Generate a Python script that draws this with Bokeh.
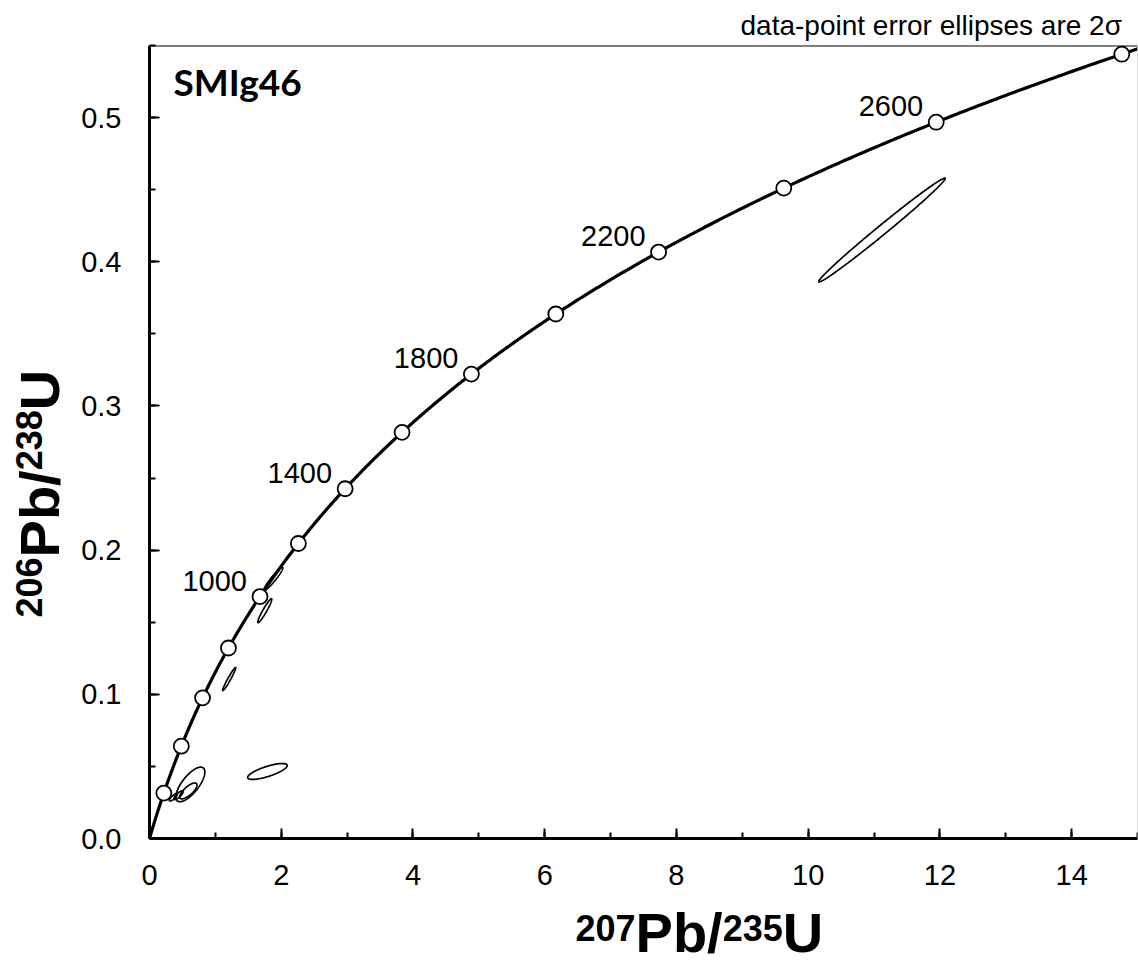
import numpy as np
from bokeh.plotting import figure
from bokeh.layouts import row, column
from bokeh.models import Label, Span, SingleIntervalTicker, ColumnDataSource, Range1d, NumeralTickFormatter, Title
from bokeh.core.properties import value
from bokeh.embed import file_html
from bokeh.resources import INLINE

# decay constants (per Ma)
LAMBDA_238 = 1.55125e-4
LAMBDA_235 = 9.8485e-4

marker_ages = [200, 400, 600, 800, 1000, 1200, 1400, 1600, 1800, 2000, 2200, 2400, 2600, 2800]
label_ages = [1000, 1400, 1800, 2200, 2600]

# data-point error ellipses (2 sigma): centre, half-widths, correlation
ell_x = [11.12, 1.79, 0.62, 0.59, 0.36, 0.44, 1.21, 1.75, 1.88]
ell_y = [0.422, 0.0465, 0.0375, 0.033, 0.0285, 0.030, 0.1106, 0.158, 0.180]
ell_sx = [0.96, 0.30, 0.22, 0.13, 0.06, 0.07, 0.099, 0.106, 0.144]
ell_sy = [0.036, 0.0055, 0.012, 0.0055, 0.0025, 0.003, 0.008, 0.0083, 0.008]
ell_rho = [0.993, 0.75, 0.72, 0.75, 0.8, 0.8, 0.97, 0.95, 0.95]

sample_name = "SMIg46"
note_text = "data-point error ellipses are 2\u03c3"
x_title = [("207", True), ("Pb/", False), ("235", True), ("U", False)]
y_title = [("206", True), ("Pb/", False), ("238", True), ("U", False)]

FONT = "Liberation Sans"

def conc_x(t):
    return np.exp(LAMBDA_235 * np.asarray(t, dtype=float)) - 1

def conc_y(t):
    return np.exp(LAMBDA_238 * np.asarray(t, dtype=float)) - 1

W, H = 1138, 964
LEFT_W = 70
MAIN_H = 897
FRAME_L, FRAME_R, FRAME_T, FRAME_B = 149, 1137, 45, 838
XMAX, YMAX = 15, 0.55

p = figure(width=W - LEFT_W, height=MAIN_H, output_backend="svg", toolbar_location=None,
           x_range=Range1d(0, XMAX), y_range=Range1d(0, YMAX),
           min_border_left=FRAME_L - LEFT_W, min_border_right=W - FRAME_R, min_border_top=FRAME_T,
           min_border_bottom=MAIN_H - FRAME_B)
p.title = Title(text=note_text, align="left", text_font=FONT, text_font_size="28px",
                text_font_style="normal", text_color="black", offset=740 - FRAME_L, standoff=9)
p.grid.visible = False
p.outline_line_color = None

for ax in (p.xaxis[0], p.yaxis[0]):
    ax.axis_line_width = 3
    ax.axis_line_color = "black"
    ax.major_tick_in = 10
    ax.major_tick_out = 0
    ax.minor_tick_in = 6
    ax.minor_tick_out = 0
    ax.major_tick_line_width = 2
    ax.minor_tick_line_width = 2
    ax.major_tick_line_color = "black"
    ax.minor_tick_line_color = "black"
    ax.major_label_text_font = FONT
    ax.major_label_text_font_size = "29px"
    ax.major_label_text_color = "black"
    ax.major_label_standoff = 28
p.xaxis[0].major_label_standoff = 26

p.xaxis[0].ticker = SingleIntervalTicker(interval=2, num_minor_ticks=2)
p.yaxis[0].ticker = SingleIntervalTicker(interval=0.1, num_minor_ticks=2)
p.yaxis[0].formatter = NumeralTickFormatter(format="0.0")
p.xaxis[0].formatter = NumeralTickFormatter(format="0")

# frame top and right
p.add_layout(Span(location=YMAX, dimension="width", line_color="black", line_width=2))
p.add_layout(Span(location=XMAX, dimension="height", line_color="#c0c0c0", line_width=1))

# error ellipses
theta = np.linspace(0, 2 * np.pi, 240)
xs, ys = [], []
for cx, cy, sx, sy, r in zip(ell_x, ell_y, ell_sx, ell_sy, ell_rho):
    xs.append(cx + sx * np.cos(theta))
    ys.append(cy + sy * (r * np.cos(theta) + np.sqrt(1 - r * r) * np.sin(theta)))
p.patches(xs, ys, fill_color=None, line_color="black", line_width=1.7)

# concordia curve
t_curve = np.linspace(0, 2850, 600)
p.line(conc_x(t_curve), conc_y(t_curve), line_color="black", line_width=3.2)

msrc = ColumnDataSource(dict(x=conc_x(marker_ages), y=conc_y(marker_ages)))
p.scatter("x", "y", source=msrc, size=15, fill_color="white", line_color="black", line_width=1.8)

lsrc = ColumnDataSource(dict(x=conc_x(label_ages), y=conc_y(label_ages), t=[str(a) for a in label_ages]))
p.text("x", "y", text="t", source=lsrc, text_align="right", text_baseline="middle",
       x_offset=-13, y_offset=-16, text_font=value(FONT), text_font_size="29px", text_color="black")

p.add_layout(Label(x=0.365, y=0.5095, text=sample_name, text_font="Lato", text_font_style="bold",
                   text_font_size="37px", text_color="black"))

# ---- axis-title strips (text with superscript isotopes) ----
BIG, SMALL = 56, 36
adv = {"P": 0.667, "b": 0.611, "/": 0.278, "U": 0.722}
def width_of(s, size):
    return sum(0.556 if c.isdigit() else adv[c] for c in s) * size

# left strip: rotated y title (pixel coordinates of the strip)
left = figure(width=LEFT_W, height=H, output_backend="svg", toolbar_location=None,
              x_range=Range1d(0, LEFT_W), y_range=Range1d(0, H), x_axis_type=None, y_axis_type=None,
              min_border=0, outline_line_color=None)
left.grid.visible = False
cur = H - 617
for txt, sup in y_title:
    sz = SMALL if sup else BIG
    left.text([28.5 if sup else 39], [cur], text=[txt], angle=np.pi / 2, text_align="left",
              text_baseline="middle", text_font=value(FONT), text_font_style="bold",
              text_font_size=f"{sz}px", text_color="black")
    cur += width_of(txt, sz)

# bottom strip: x title, frame aligned with main frame
BOT_H = H - MAIN_H
bottom = figure(width=W - LEFT_W, height=BOT_H, output_backend="svg", toolbar_location=None,
                x_range=Range1d(0, XMAX), y_range=Range1d(0, BOT_H), x_axis_type=None, y_axis_type=None,
                min_border_left=FRAME_L - LEFT_W, min_border_right=W - FRAME_R,
                min_border_top=0, min_border_bottom=0, outline_line_color=None)
bottom.grid.visible = False
xs_per_px = XMAX / (FRAME_R - FRAME_L)
cur = 575
for txt, sup in x_title:
    sz = SMALL if sup else BIG
    bottom.text([(cur - FRAME_L) * xs_per_px], [H - (927 if sup else 932)], text=[txt], text_align="left",
                text_baseline="middle", text_font=value(FONT), text_font_style="bold",
                text_font_size=f"{sz}px", text_color="black")
    cur += width_of(txt, sz)

layout = row(left, column(p, bottom, spacing=0), spacing=0)
open("out.html", "w").write(file_html(layout, INLINE))
